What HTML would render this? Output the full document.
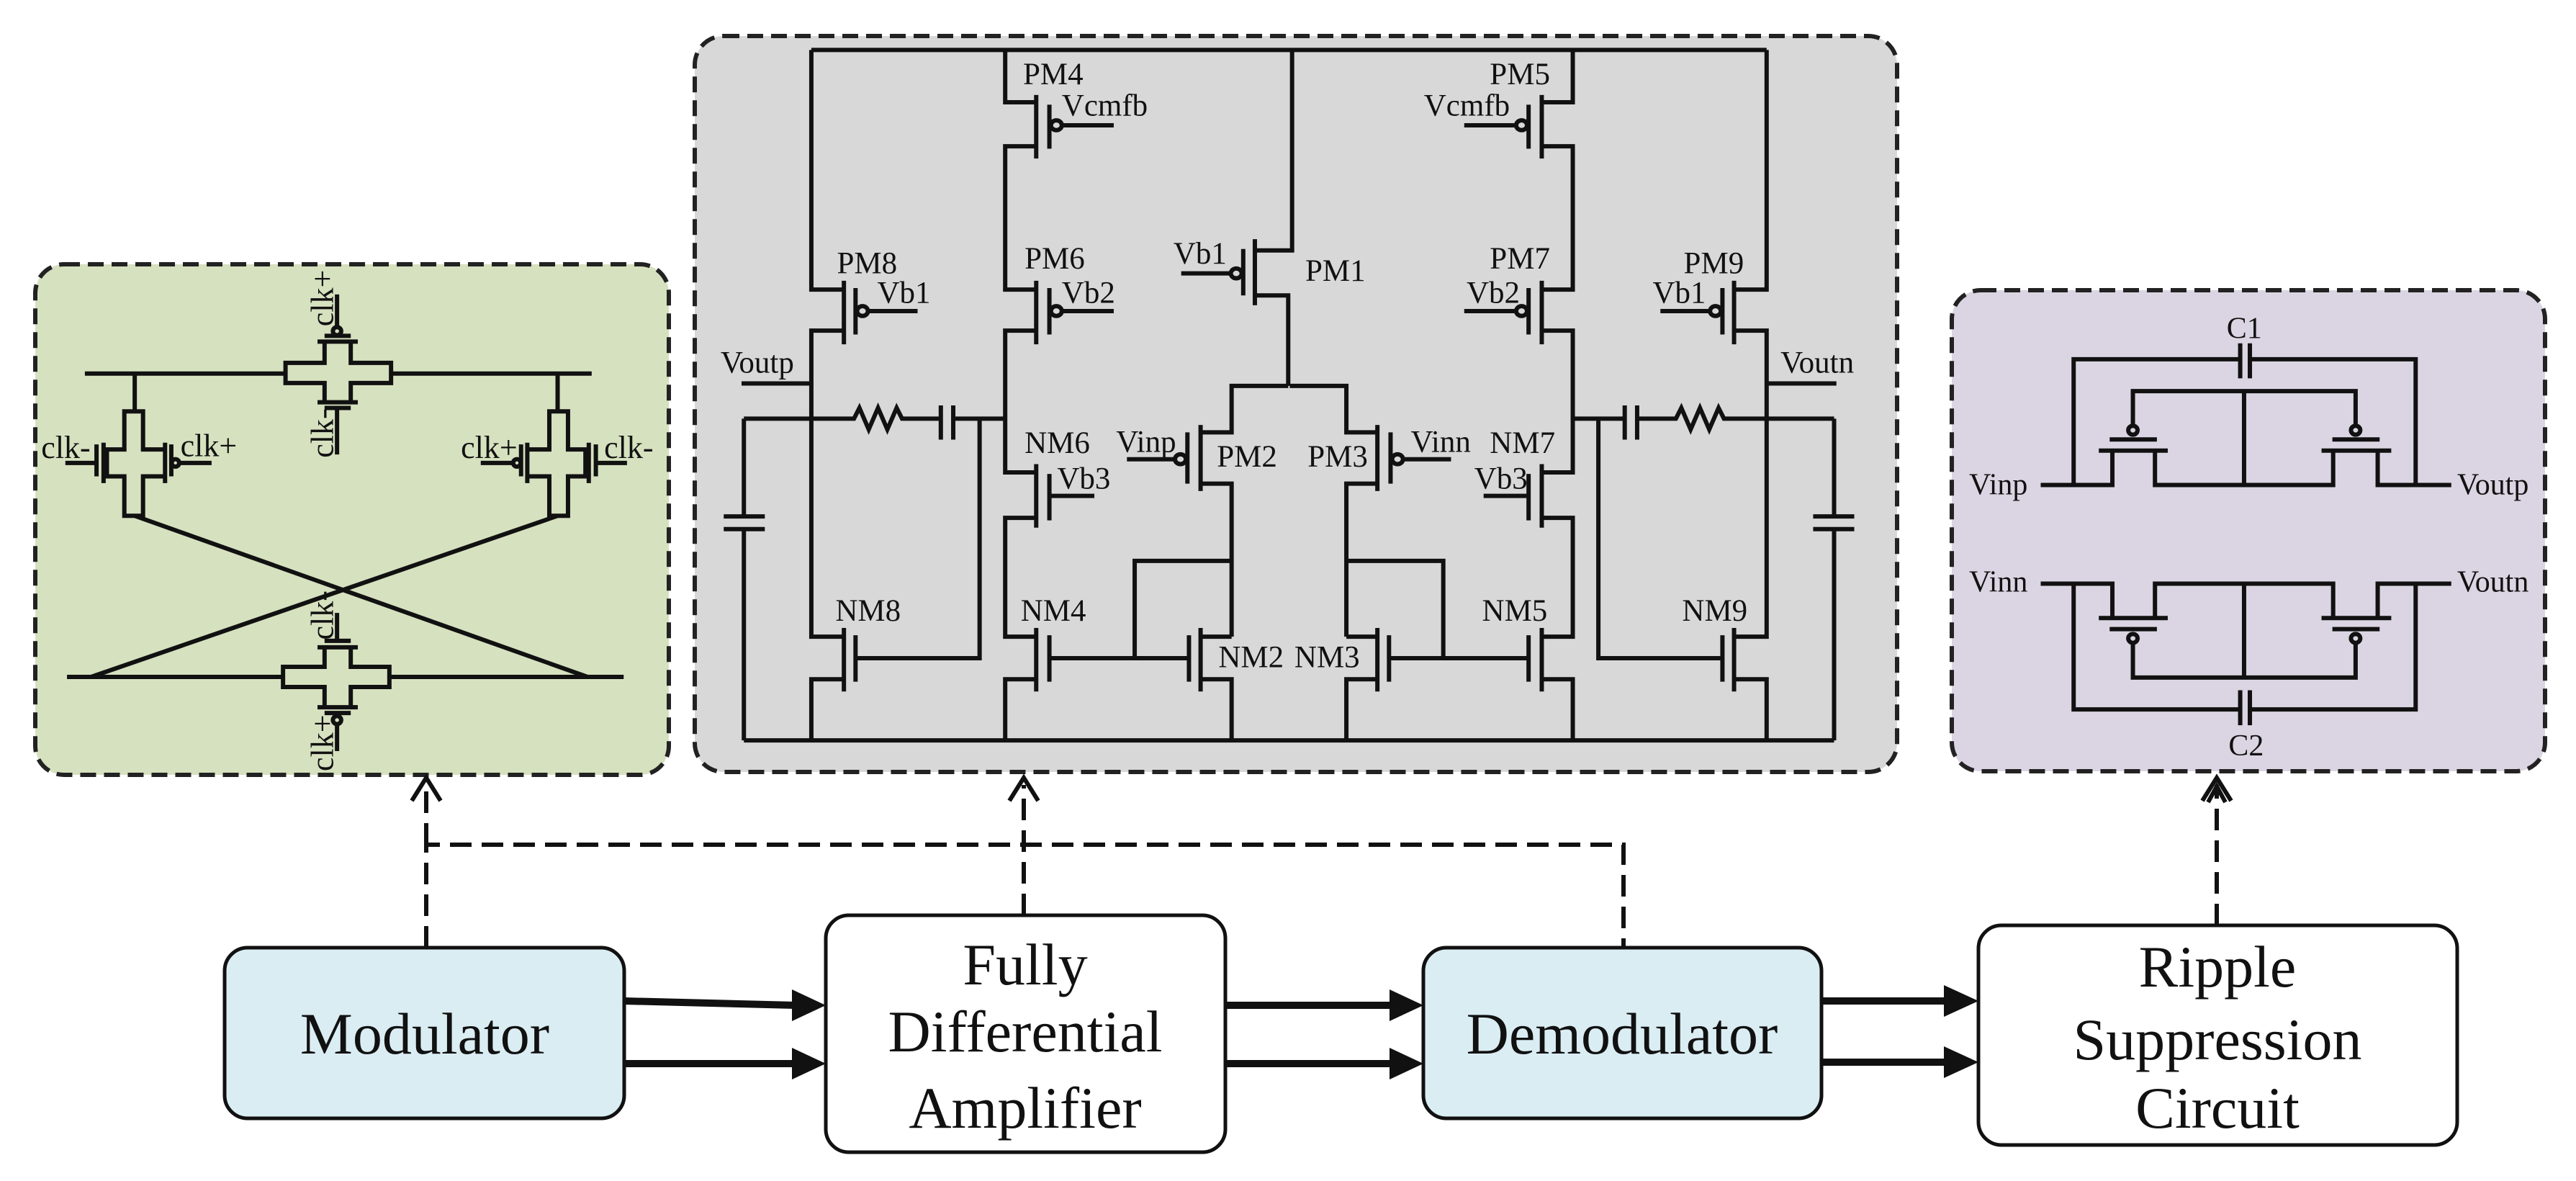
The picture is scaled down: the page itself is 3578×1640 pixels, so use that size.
<!DOCTYPE html>
<html><head><meta charset="utf-8"><style>
html,body{margin:0;padding:0;background:#fff;}
svg{display:block;}
text{font-family:"Liberation Serif",serif;fill:#111;}
.w{fill:none;stroke:#111;stroke-width:6;vector-effect:non-scaling-stroke;stroke-linejoin:miter;}
</style></head><body>
<svg width="3578" height="1640" viewBox="0 0 3578 1640" xmlns="http://www.w3.org/2000/svg">
<!-- panels -->
<rect x="49" y="367" width="880" height="709" rx="40" fill="#d6e1bf" stroke="#222" stroke-width="6" stroke-dasharray="22 11"/>
<rect x="965" y="50" width="1670" height="1022" rx="40" fill="#d8d8d8" stroke="#222" stroke-width="6" stroke-dasharray="22 11"/>
<rect x="2711" y="403" width="824" height="668" rx="40" fill="#dbd5e3" stroke="#222" stroke-width="6" stroke-dasharray="22 11"/>

<!-- GRAY circuit -->
<g transform="translate(960,30) scale(1.077,0.679)">
 <g id="half" class="w">
  <path class="w" d="M155 58V548H195 M197 530V660 M212 545V640 M228 592H292 M197 632H155V1258H195 M197 1240V1370 M212 1255V1350 M212 1302H372V812 M197 1345H155V1470"/>
  <ellipse class="w" cx="221" cy="592" rx="7" ry="10"/>
  <path class="w" d="M65 740H155 M68 812H210 L217 790 L229 834 L241 790 L253 834 L265 790 L272 812 H322 M322 785V855 M338 785V855 M338 812H405 M68 812V1012 M42 1012H95 M42 1038H95 M68 1038V1470"/>
  <path class="w" d="M405 58V165H445 M445 150V280 M462 170V260 M478 212H545 M445 255H405V548H445 M445 530V660 M462 545V640 M478 592H545 M445 632H405V922H445 M445 905V1035 M462 925V1020 M462 970H520 M445 1015H405V1258H445 M445 1240V1370 M462 1255V1350 M462 1302H640 M445 1345H405V1470"/>
  <ellipse class="w" cx="471" cy="212" rx="7" ry="10"/>
  <ellipse class="w" cx="471" cy="592" rx="7" ry="10"/>
  <path class="w" d="M657 1240V1370 M642 1255V1350 M657 1258H697 M657 1345H697V1470 M697 1258V945H657 M572 1302V1103H697 M657 825V960 M640 840V945 M562 895H623 M657 840H697V745H770"/>
  <ellipse class="w" cx="631" cy="895" rx="7" ry="10"/>
 </g>
 <use href="#half" transform="translate(1542,0) scale(-1,1)"/>
 <path class="w" d="M155 58H1387 M68 1470H1474 M770 745V560H727 M727 445V580 M712 465V560 M632 515H695 M727 468H775V58"/>
 <ellipse class="w" cx="703" cy="515" rx="7" ry="10"/>
 <g font-size="43">
  <text transform="translate(428,128) scale(0.9286,1.4717)">PM4</text>
  <text transform="translate(478,192) scale(0.9286,1.4717)">Vcmfb</text>
  <text transform="translate(188,515) scale(0.9286,1.4717)">PM8</text>
  <text transform="translate(240,575) scale(0.9286,1.4717)">Vb1</text>
  <text transform="translate(430,505) scale(0.9286,1.4717)">PM6</text>
  <text transform="translate(478,575) scale(0.9286,1.4717)">Vb2</text>
  <text transform="translate(38,718) scale(0.9286,1.4717)">Voutp</text>
  <text transform="translate(430,882) scale(0.9286,1.4717)">NM6</text>
  <text transform="translate(472,955) scale(0.9286,1.4717)">Vb3</text>
  <text transform="translate(186,1225) scale(0.9286,1.4717)">NM8</text>
  <text transform="translate(425,1225) scale(0.9286,1.4717)">NM4</text>
  <text transform="translate(548,880) scale(0.9286,1.4717)">Vinp</text>
  <text transform="translate(678,910) scale(0.9286,1.4717)">PM2</text>
  <text transform="translate(622,495) scale(0.9286,1.4717)">Vb1</text>
  <text transform="translate(792,530) scale(0.9286,1.4717)">PM1</text>
  <text transform="translate(680,1320) scale(0.9286,1.4717)">NM2</text>
  <text transform="translate(1030,128) scale(0.9286,1.4717)">PM5</text>
  <text transform="translate(945,192) scale(0.9286,1.4717)">Vcmfb</text>
  <text transform="translate(1030,505) scale(0.9286,1.4717)">PM7</text>
  <text transform="translate(1000,575) scale(0.9286,1.4717)">Vb2</text>
  <text transform="translate(1280,515) scale(0.9286,1.4717)">PM9</text>
  <text transform="translate(1240,575) scale(0.9286,1.4717)">Vb1</text>
  <text transform="translate(1405,718) scale(0.9286,1.4717)">Voutn</text>
  <text transform="translate(1030,882) scale(0.9286,1.4717)">NM7</text>
  <text transform="translate(1010,955) scale(0.9286,1.4717)">Vb3</text>
  <text transform="translate(928,880) scale(0.9286,1.4717)">Vinn</text>
  <text transform="translate(795,910) scale(0.9286,1.4717)">PM3</text>
  <text transform="translate(778,1320) scale(0.9286,1.4717)">NM3</text>
  <text transform="translate(1020,1225) scale(0.9286,1.4717)">NM5</text>
  <text transform="translate(1278,1225) scale(0.9286,1.4717)">NM9</text>
 </g>
</g>

<!-- GREEN circuit -->
<g transform="translate(40,355) scale(0.577,0.468)">
 <path class="w" d="M135 350H618 M872 350H1355 M712 255H775V318H872V378H775V435H712V378H618V318H712Z M695 255H792 M712 238H775 M742 212V115 M695 435H792 M712 452H775 M742 452V590"/>
 <ellipse class="w" cx="742" cy="224" rx="10" ry="12"/>
 <g id="ltg">
  <path class="w" d="M255 350V462 M230 462H275V575H328V655H275V772H230V655H188V575H230Z M180 555V675 M163 560V655 M88 615H163 M328 555V675 M343 560V655 M362 615H440"/>
  <ellipse class="w" cx="353" cy="615" rx="9" ry="11"/>
 </g>
 <use href="#ltg" transform="translate(1528,0) scale(-1,1)"/>
 <path class="w" d="M255 772L1345 1250 M1273 772L150 1250 M92 1250H612 M868 1250H1432 M712 1162H775V1220H868V1280H775V1340H712V1280H612V1220H712Z M695 1162H792 M712 1143H775 M742 1143V1060 M695 1340H792 M712 1357H775 M742 1392V1470"/>
 <ellipse class="w" cx="742" cy="1378" rx="10" ry="12"/>
 <g font-size="44">
  <text transform="translate(30,600) scale(1.733,2.137)">clk-</text>
  <text transform="translate(365,595) scale(1.733,2.137)">clk+</text>
  <text transform="translate(1040,600) scale(1.733,2.137)">clk+</text>
  <text transform="translate(1385,600) scale(1.733,2.137)">clk-</text>
  <text transform="translate(732,210) scale(1.733,2.137) rotate(-90)">clk+</text>
  <text transform="translate(732,600) scale(1.733,2.137) rotate(-90)">clk-</text>
  <text transform="translate(732,1140) scale(1.733,2.137) rotate(-90)">clk-</text>
  <text transform="translate(732,1530) scale(1.733,2.137) rotate(-90)">clk+</text>
 </g>
</g>

<!-- PURPLE circuit -->
<g transform="translate(2700,395) scale(0.538,0.442)">
 <g id="ptop">
  <path class="w" d="M250 630H435V522 M400 522H578 M428 487H550 M488 444V335H1063V444 M975 522H1155 M1003 487H1125 M545 522V630H1005V522 M775 335V630 M1120 522V630H1310 M335 630V235H765 M765 185V295 M790 185V295 M790 235H1218V630"/>
  <ellipse class="w" cx="488" cy="458" rx="12" ry="14"/>
  <ellipse class="w" cx="1063" cy="458" rx="12" ry="14"/>
 </g>
 <use href="#ptop" transform="translate(0,1570) scale(1,-1)"/>
 <g font-size="42">
  <text transform="translate(65,660) scale(1.857,2.261)">Vinp</text>
  <text transform="translate(1325,660) scale(1.857,2.261)">Voutp</text>
  <text transform="translate(730,168) scale(1.857,2.261)">C1</text>
  <text transform="translate(65,965) scale(1.857,2.261)">Vinn</text>
  <text transform="translate(1325,965) scale(1.857,2.261)">Voutn</text>
  <text transform="translate(735,1480) scale(1.857,2.261)">C2</text>
 </g>
</g>

<!-- dashed connectors -->
<g fill="none" stroke="#111" stroke-width="6" stroke-dasharray="30 14">
 <path d="M592 1316V1173H2255V1316"/>
 <path d="M592 1173V1090"/>
 <path d="M1422 1271V1090"/>
 <path d="M3079 1285V1090"/>
</g>
<g fill="none" stroke="#111" stroke-width="6">
 <path d="M572 1112L592 1080L612 1112"/>
 <path d="M1402 1112L1422 1080L1442 1112"/>
 <path d="M3059 1112L3079 1080L3099 1112 M3067 1114L3079 1092L3091 1114"/>
</g>

<!-- boxes -->
<g stroke="#111" stroke-width="5">
 <rect x="312" y="1316" width="555" height="237" rx="32" fill="#daedf3"/>
 <rect x="1147" y="1271" width="555" height="329" rx="32" fill="#fff"/>
 <rect x="1977" y="1316" width="553" height="237" rx="32" fill="#daedf3"/>
 <rect x="2748" y="1285" width="665" height="305" rx="32" fill="#fff"/>
</g>
<!-- arrows -->
<g stroke="#111" stroke-width="10">
 <path d="M867 1390L1105 1396 M867 1477H1105 M1702 1396H1935 M1702 1477H1935 M2530 1390H2705 M2530 1475H2705"/>
</g>
<g fill="#111">
 <path d="M1100 1374L1147 1396L1100 1418Z M1100 1455L1147 1477L1100 1499Z"/>
 <path d="M1930 1374L1977 1396L1930 1418Z M1930 1455L1977 1477L1930 1499Z"/>
 <path d="M2700 1368L2748 1390L2700 1412Z M2700 1453L2748 1475L2700 1497Z"/>
</g>
<g font-size="82" text-anchor="middle">
 <text x="590" y="1463">Modulator</text>
 <text x="1424" y="1367">Fully</text>
 <text x="1424" y="1460">Differential</text>
 <text x="1424" y="1566">Amplifier</text>
 <text x="2253" y="1463">Demodulator</text>
 <text x="3080" y="1370">Ripple</text>
 <text x="3080" y="1471">Suppression</text>
 <text x="3080" y="1566">Circuit</text>
</g>
</svg>
</body></html>
